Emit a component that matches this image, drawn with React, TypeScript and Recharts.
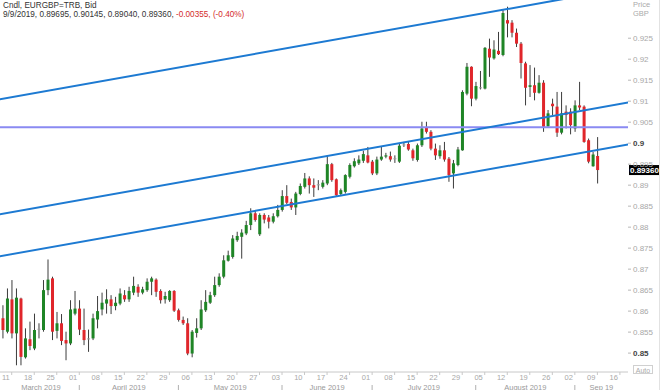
import React from "react";
import { ComposedChart, Bar, XAxis, YAxis, ReferenceLine } from "recharts";

// EURGBP daily candles, 7 Mar 2019 - 9 Sep 2019
const opens = [
  0.8583, 0.8551, 0.8628, 0.8547, 0.863, 0.849, 0.8533, 0.8511, 0.8556, 0.8555,
  0.865, 0.8678, 0.8553, 0.8571, 0.8531, 0.8523, 0.8594, 0.8606, 0.8555, 0.8533,
  0.8535, 0.858, 0.8604, 0.8618, 0.8628, 0.8612, 0.8618, 0.8638, 0.8628, 0.8644,
  0.8658, 0.8644, 0.865, 0.867, 0.8675, 0.8648, 0.8628, 0.8626, 0.8648, 0.8602,
  0.8579, 0.8571, 0.8499, 0.8548, 0.8559, 0.8602, 0.862, 0.8638, 0.8662, 0.8682,
  0.872, 0.8729, 0.8769, 0.8777, 0.8785, 0.8805, 0.8833, 0.8783, 0.8829, 0.8823,
  0.8813, 0.8826, 0.8841, 0.8874, 0.886, 0.8847, 0.8879, 0.8896, 0.8916, 0.89,
  0.89, 0.8896, 0.8904, 0.895, 0.8914, 0.8879, 0.8884, 0.892, 0.8945, 0.8952,
  0.8958, 0.8971, 0.8956, 0.8928, 0.8961, 0.8968, 0.8969, 0.8963, 0.8956, 0.8995,
  0.8998, 0.8983, 0.896, 0.8995, 0.9037, 0.9027, 0.8987, 0.8969, 0.8983, 0.8963,
  0.8928, 0.8948, 0.8983, 0.9118, 0.9182, 0.9106, 0.9131, 0.913, 0.9225, 0.9202,
  0.922, 0.921, 0.9293, 0.9287, 0.9263, 0.9237, 0.919, 0.9134, 0.9138, 0.912,
  0.9144, 0.904, 0.9094, 0.9087, 0.9025, 0.9075, 0.9075, 0.9035, 0.909, 0.9087,
  0.9007, 0.8945, 0.89695,
];
const highs = [
  0.8614, 0.8654, 0.8674, 0.8654, 0.8632, 0.8559, 0.8575, 0.8594, 0.8571, 0.8674,
  0.8723, 0.8682, 0.8598, 0.8593, 0.8551, 0.8626, 0.8648, 0.8626, 0.8606, 0.8556,
  0.8594, 0.8636, 0.8644, 0.8652, 0.8638, 0.8634, 0.8654, 0.865, 0.8658, 0.8682,
  0.8664, 0.8658, 0.8678, 0.8682, 0.8678, 0.8652, 0.8646, 0.865, 0.865, 0.8606,
  0.8587, 0.8583, 0.8555, 0.8583, 0.8626, 0.865, 0.8646, 0.8682, 0.869, 0.8733,
  0.8744, 0.8781, 0.8789, 0.8795, 0.8815, 0.8845, 0.8839, 0.8833, 0.8833, 0.8829,
  0.8833, 0.8853, 0.8888, 0.89, 0.8868, 0.8884, 0.8904, 0.8929, 0.8921, 0.8916,
  0.8912, 0.8912, 0.8971, 0.8953, 0.8916, 0.8892, 0.8926, 0.8952, 0.8964, 0.8971,
  0.8982, 0.8991, 0.896, 0.8968, 0.8991, 0.8977, 0.898, 0.8971, 0.8999, 0.9003,
  0.9003, 0.8987, 0.8999, 0.9051, 0.9051, 0.9031, 0.8999, 0.8995, 0.9003, 0.8967,
  0.896, 0.8991, 0.9126, 0.9191, 0.9183, 0.9146, 0.9172, 0.9229, 0.9249, 0.9245,
  0.9265, 0.9317, 0.9325, 0.9293, 0.9273, 0.9241, 0.9194, 0.9186, 0.918, 0.9162,
  0.915, 0.9079, 0.9106, 0.9122, 0.9122, 0.909, 0.9083, 0.9102, 0.9146, 0.909,
  0.9011, 0.8979, 0.90145,
];
const lows = [
  0.8535, 0.8547, 0.8535, 0.8471, 0.8471, 0.8487, 0.8507, 0.8507, 0.8535, 0.8551,
  0.8638, 0.8531, 0.8535, 0.8519, 0.8483, 0.8519, 0.859, 0.8543, 0.8519, 0.8503,
  0.8531, 0.8559, 0.859, 0.8594, 0.8593, 0.8602, 0.8614, 0.8622, 0.8622, 0.8638,
  0.8634, 0.864, 0.8646, 0.8638, 0.8634, 0.8618, 0.8618, 0.8622, 0.8598, 0.8575,
  0.8567, 0.8495, 0.849, 0.8537, 0.8555, 0.8598, 0.8617, 0.8634, 0.8658, 0.8678,
  0.8718, 0.8725, 0.8765, 0.8725, 0.8781, 0.8793, 0.8813, 0.8779, 0.8809, 0.8797,
  0.8809, 0.8823, 0.8837, 0.8855, 0.8841, 0.8829, 0.8876, 0.8892, 0.888, 0.8872,
  0.8888, 0.8892, 0.89, 0.8908, 0.8874, 0.8874, 0.888, 0.8916, 0.8942, 0.8948,
  0.8953, 0.8952, 0.8924, 0.8924, 0.8958, 0.8964, 0.8956, 0.8953, 0.8953, 0.8991,
  0.8982, 0.8958, 0.8956, 0.8991, 0.9023, 0.8983, 0.896, 0.8963, 0.8956, 0.8908,
  0.8892, 0.8945, 0.8982, 0.9114, 0.9088, 0.9102, 0.9128, 0.9128, 0.9158, 0.9199,
  0.921, 0.9207, 0.9252, 0.9252, 0.9229, 0.9154, 0.909, 0.911, 0.9102, 0.9118,
  0.9027, 0.9039, 0.9067, 0.9015, 0.9021, 0.9035, 0.9021, 0.9027, 0.9079, 0.9001,
  0.8952, 0.8944, 0.8904,
];
const closes = [
  0.8555, 0.863, 0.8547, 0.8632, 0.8491, 0.8535, 0.8517, 0.8555, 0.8558, 0.865,
  0.8675, 0.8551, 0.8571, 0.8529, 0.8523, 0.8604, 0.8606, 0.8556, 0.8531, 0.8535,
  0.8583, 0.86, 0.862, 0.8628, 0.8612, 0.862, 0.8642, 0.8628, 0.8648, 0.866,
  0.8644, 0.8652, 0.867, 0.8678, 0.8646, 0.8626, 0.8636, 0.8648, 0.8601, 0.8579,
  0.8571, 0.8499, 0.8551, 0.8559, 0.8604, 0.8622, 0.8638, 0.8662, 0.8682, 0.8721,
  0.8733, 0.8773, 0.8779, 0.8787, 0.8805, 0.8833, 0.8817, 0.8829, 0.8818, 0.8813,
  0.8826, 0.8841, 0.8874, 0.8858, 0.8847, 0.888, 0.8898, 0.8916, 0.89, 0.8894,
  0.8902, 0.8906, 0.895, 0.8912, 0.8876, 0.8888, 0.8924, 0.8948, 0.8957, 0.8961,
  0.8974, 0.8954, 0.8928, 0.8961, 0.8968, 0.8971, 0.8961, 0.8964, 0.8994, 0.8997,
  0.8985, 0.8964, 0.8995, 0.9035, 0.9027, 0.8987, 0.8971, 0.8983, 0.8961, 0.8924,
  0.8952, 0.8985, 0.9122, 0.9182, 0.9106, 0.9136, 0.9133, 0.9227, 0.9204, 0.9223,
  0.9212, 0.931, 0.9285, 0.9263, 0.9237, 0.9191, 0.9132, 0.9138, 0.912, 0.9144,
  0.9039, 0.9071, 0.9088, 0.9025, 0.9071, 0.9067, 0.9043, 0.909, 0.9085, 0.9003,
  0.8956, 0.8973, 0.8936,
];

// weekly (Monday) tick labels, first one is 11 March = 3rd candle
const weekLabels = [
  "11", "18", "25", "01", "08", "15", "22", "29", "06", "13", "20", "27", "03", "10",
  "17", "24", "01", "08", "15", "22", "29", "05", "12", "19", "26", "02", "09", "16",
];
const monthLabels = ["March 2019", "April 2019", "May 2019", "June 2019", "July 2019", "August 2019", "Sep 19"];
const monthStarts = [0, 17, 39, 62, 82, 105, 127];
const priceTicks = [
  0.925, 0.92, 0.915, 0.91, 0.905, 0.9, 0.895, 0.89, 0.885, 0.88, 0.875, 0.87, 0.865, 0.86, 0.855, 0.85,
];

// drawn trend channel (candle index, price)
const channelLines = [
  [{ x: -1, y: 0.9104 }, { x: 139, y: 0.9371 }],
  [{ x: -1, y: 0.883 }, { x: 139, y: 0.9097 }],
  [{ x: -1, y: 0.873 }, { x: 139, y: 0.8997 }],
];
const levelLine = 0.9038;
const lastPrice = 0.8936;

const X_DOMAIN = [-0.6, 138.8];
const Y_DOMAIN = [0.8455, 0.9341];

const data = opens.map((o, i) => ({ i, o, h: highs[i], l: lows[i], c: closes[i] }));
const weekTicks = weekLabels.map((_, k) => 2 + 5 * k);
const monthMids = monthStarts.map((s, k) => (s + (k < monthStarts.length - 1 ? monthStarts[k + 1] : X_DOMAIN[1])) / 2);
const monthTicks = [...monthStarts.slice(1), ...monthMids];

const FONT = "'Liberation Sans', Arial, sans-serif";

const Candle = (props: any) => {
  const { x, y, width, height, payload } = props;
  const { o, h, l, c } = payload;
  const k = height / (h - l);
  const top = y + (h - Math.max(o, c)) * k;
  const bh = Math.max(1, Math.abs(o - c) * k);
  const fill = Math.abs(c - o) < 0.00025 ? "#9c9c9c" : c > o ? "#1f8526" : "#e0262b";
  const cx = x + width / 2;
  return (
    <g>
      <line x1={cx} x2={cx} y1={y} y2={y + height} stroke="#3c3c3c" strokeWidth={1} />
      <rect x={x} y={top} width={width} height={bh} fill={fill} />
    </g>
  );
};

const WeekTick = (props: any) => {
  const { x, y, payload } = props;
  const idx = weekTicks.indexOf(payload.value);
  return (
    <text x={x - 2} y={y + 4} textAnchor="end" fontSize={7.5} fill="#a8a8a8" fontFamily={FONT}>
      {weekLabels[idx]}
    </text>
  );
};

const MonthTick = (props: any) => {
  const { x, y, payload } = props;
  if (monthStarts.indexOf(payload.value) > 0) {
    return <line x1={x} x2={x} y1={y + 3} y2={y + 9} stroke="#b0b0b0" strokeWidth={1} />;
  }
  const idx = monthMids.indexOf(payload.value);
  return (
    <text x={x} y={y + 7.5} textAnchor="middle" fontSize={7.5} fill="#9a9a9a" fontFamily={FONT}>
      {monthLabels[idx]}
    </text>
  );
};

const PriceTick = (props: any) => {
  const { x, y, payload } = props;
  const v = payload.value;
  const major = Math.abs(v * 20 - Math.round(v * 20)) < 1e-6;
  return (
    <text
      x={x}
      y={y + 3}
      textAnchor="start"
      fontSize={8}
      fontWeight={major ? "bold" : "normal"}
      fill={major ? "#444" : "#a8a8a8"}
      fontFamily={FONT}
    >
      {String(Number(v.toFixed(3)))}
    </text>
  );
};

const PriceTag = (props: any) => {
  const vb = props.viewBox;
  const right = vb.x + vb.width;
  return (
    <g>
      <rect x={right + 1} y={vb.y - 5} width={31} height={10} fill="#000" />
      <text x={right + 2} y={vb.y + 3} fontSize={8} fontWeight="bold" fill="#fff" fontFamily={FONT}>
        {lastPrice.toFixed(5)}
      </text>
    </g>
  );
};

export default function App() {
  return (
    <div
      style={{
        position: "absolute",
        left: 0,
        top: 0,
        width: 660,
        height: 390,
        overflow: "hidden",
        background: "#fff",
        fontFamily: FONT,
      }}
    >
      <ComposedChart width={660} height={390} data={data} margin={{ top: 0, right: 0, bottom: 0, left: 0 }}>
        <XAxis
          xAxisId={0}
          dataKey="i"
          type="number"
          domain={X_DOMAIN}
          allowDataOverflow
          ticks={weekTicks}
          interval={0}
          height={10}
          tickSize={3}
          tickMargin={1}
          axisLine={{ stroke: "#c8c8c8" }}
          tickLine={{ stroke: "#c8c8c8" }}
          tick={<WeekTick />}
        />
        <XAxis
          xAxisId="m"
          dataKey="i"
          type="number"
          domain={X_DOMAIN}
          allowDataOverflow
          ticks={monthTicks}
          interval={0}
          height={8}
          tickSize={0}
          tickMargin={0}
          axisLine={false}
          tickLine={false}
          tick={<MonthTick />}
        />
        <YAxis
          orientation="right"
          type="number"
          domain={Y_DOMAIN}
          allowDataOverflow
          ticks={priceTicks}
          interval={0}
          width={32}
          tickSize={3}
          tickMargin={2}
          axisLine={false}
          tickLine={{ stroke: "#b8b8b8" }}
          tick={<PriceTick />}
        />
        <ReferenceLine y={levelLine} stroke="#8a8af2" strokeWidth={2} />
        {channelLines.map((seg, k) => (
          <ReferenceLine key={k} segment={seg} stroke="#1d7ad2" strokeWidth={2} ifOverflow="hidden" />
        ))}
        <Bar dataKey={(d: any) => [d.l, d.h]} barSize={3} shape={<Candle />} isAnimationActive={false} />
        <ReferenceLine y={lastPrice} strokeOpacity={0} label={(p: any) => <PriceTag {...p} />} />
      </ComposedChart>

      <div style={{ position: "absolute", left: 3, top: 1, fontSize: 8.2, lineHeight: "9px", color: "#333", whiteSpace: "nowrap" }}>
        <div>Cndl, EURGBP=TRB, Bid</div>
        <div>
          9/9/2019, 0.89695, 0.90145, 0.89040, 0.89360, <span style={{ color: "#d42a2a" }}>-0.00355, (-0.40%)</span>
        </div>
      </div>
      <div style={{ position: "absolute", left: 633, top: 0, fontSize: 7.5, lineHeight: "9px", color: "#aaa" }}>
        <div>Price</div>
        <div>GBP</div>
      </div>
      <div
        style={{
          position: "absolute",
          left: 633,
          top: 365,
          width: 20,
          height: 9,
          border: "1px solid #d0d0d0",
          fontSize: 7,
          lineHeight: "9px",
          textAlign: "center",
          color: "#aaa",
          boxSizing: "border-box",
        }}
      >
        Auto
      </div>
      <div style={{ position: "absolute", left: 659, top: 0, width: 1, height: 390, background: "#e2e2e2" }} />
    </div>
  );
}
